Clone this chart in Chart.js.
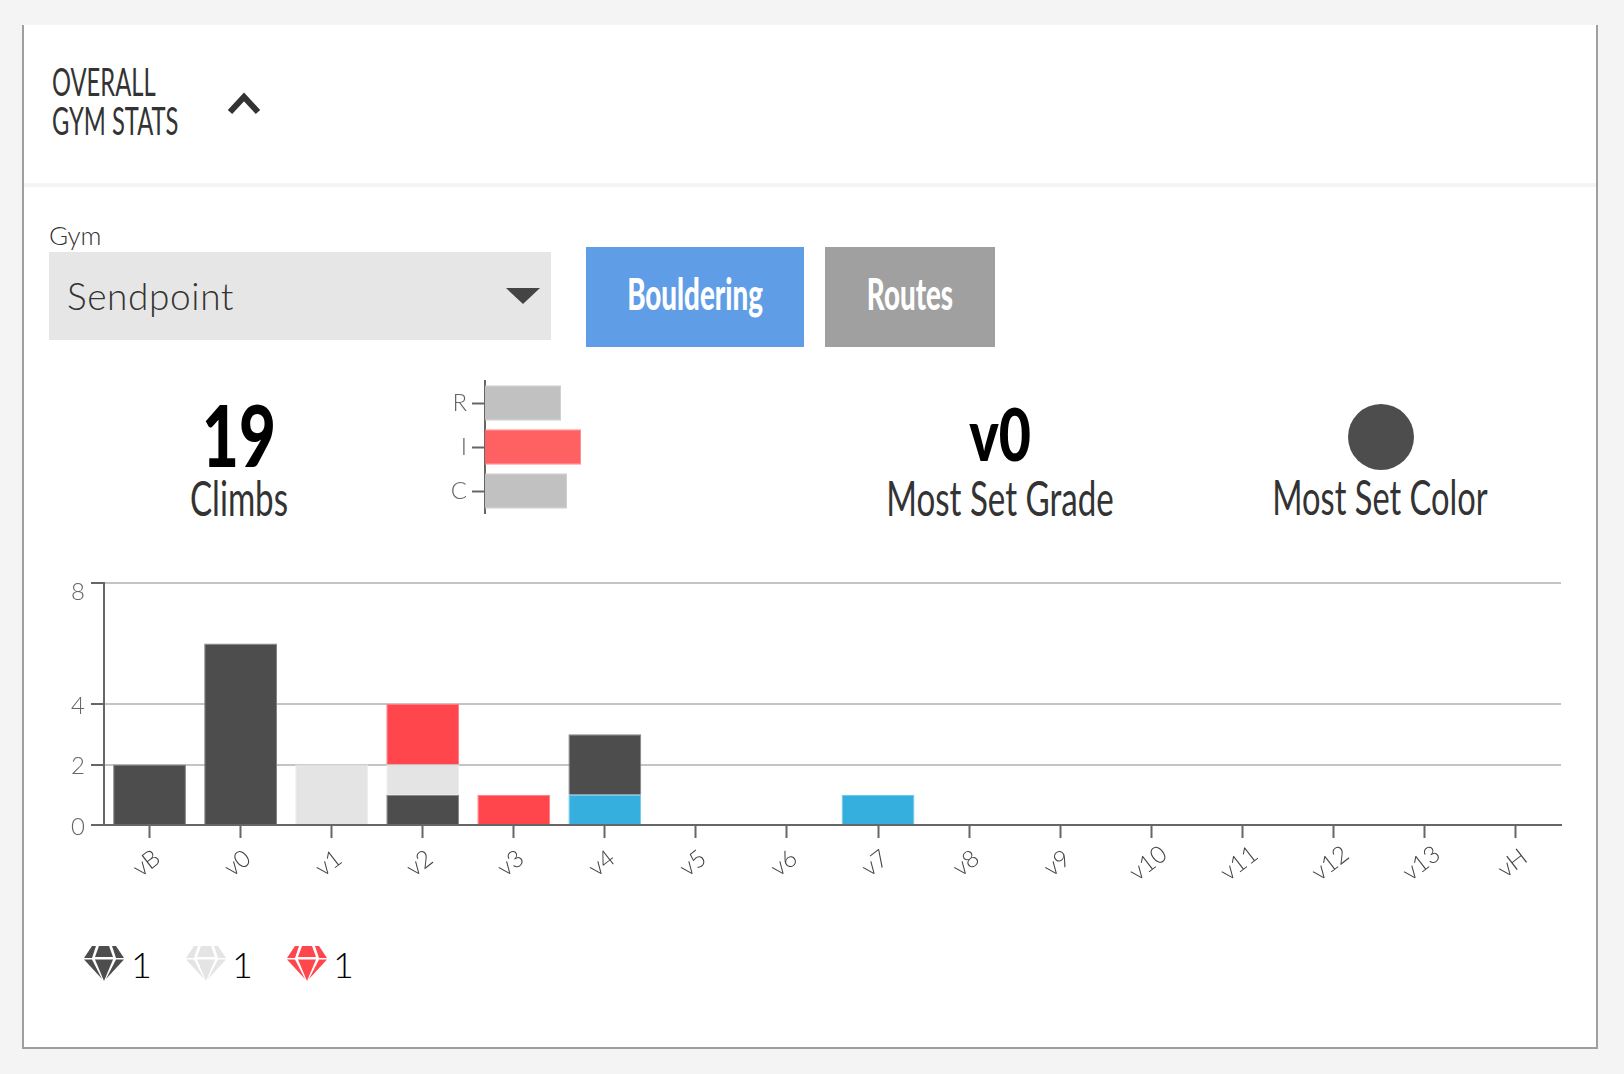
<!DOCTYPE html>
<html>
<head>
<meta charset="utf-8">
<title>Overall Gym Stats</title>
<script src="https://cdn.jsdelivr.net/npm/chart.js@4/dist/chart.umd.js"></script>
<style>
  html, body { margin: 0; padding: 0; width: 1624px; height: 1074px; overflow: hidden; background: #f4f4f4; font-family: Lato, sans-serif; }
  #panel { position: absolute; left: 22px; top: 25px; width: 1572px; height: 1022px; background: #fff; border: 2px solid #9f9f9f; border-top: 0; box-sizing: content-box; }
  .abs { position: absolute; white-space: nowrap; line-height: 1; }
  .narrow { transform-origin: left center; }
  .mid { text-align: center; transform-origin: center center; }
  canvas { position: absolute; }
</style>
</head>
<body>
<div id="panel"></div>

<!-- header -->
<div class="abs narrow" style="left:52px;top:62px;font-size:38px;color:#333;transform:scaleX(.625)">OVERALL</div>
<div class="abs narrow" style="left:52px;top:101px;font-size:38px;color:#333;transform:scaleX(.625)">GYM STATS</div>
<svg class="abs" style="left:224px;top:90px" width="40" height="28"><path d="M6 22 L20 7 L34 22" fill="none" stroke="#333" stroke-width="6"/></svg>
<div class="abs" style="left:24px;top:183px;width:1572px;height:4px;background:#f4f4f4"></div>

<!-- gym select and buttons -->
<div class="abs" style="left:49px;top:222px;font-size:26px;font-weight:300;color:#333">Gym</div>
<div class="abs" style="left:49px;top:252px;width:502px;height:88px;background:#e6e6e6"></div>
<div class="abs" style="left:67px;top:277px;font-size:37px;font-weight:300;letter-spacing:.6px;color:#333">Sendpoint</div>
<svg class="abs" style="left:505px;top:287px" width="36" height="18"><path d="M1 1 H35 L18 17 Z" fill="#444"/></svg>
<div class="abs" style="left:586px;top:247px;width:218px;height:100px;background:#5f9ee6"></div>
<div class="abs mid" style="left:586px;top:271px;width:218px;font-size:44px;font-weight:900;color:#fff;transform:scaleX(.63)">Bouldering</div>
<div class="abs" style="left:825px;top:247px;width:170px;height:100px;background:#a0a0a0"></div>
<div class="abs mid" style="left:825px;top:271px;width:170px;font-size:44px;font-weight:900;color:#fff;transform:scaleX(.63)">Routes</div>

<!-- stats -->
<div class="abs mid" style="left:139px;top:391px;width:200px;font-size:86px;font-weight:900;color:#000;transform:scaleX(.74)">19</div>
<div class="abs mid" style="left:139px;top:474px;width:200px;font-size:48px;color:#333;transform:scaleX(.69)">Climbs</div>
<div class="abs mid" style="left:900px;top:397px;width:200px;font-size:73px;font-weight:900;color:#000;transform:scaleX(.76)">v0</div>
<div class="abs mid" style="left:750px;top:474px;width:500px;font-size:48px;color:#333;transform:scaleX(.69)">Most Set Grade</div>
<div class="abs" style="left:1348px;top:404px;width:66px;height:66px;border-radius:50%;background:#4d4d4d"></div>
<div class="abs mid" style="left:1130px;top:473px;width:500px;font-size:48px;color:#333;transform:scaleX(.68)">Most Set Color</div>

<canvas id="ricChart" width="200" height="200" style="left:420px;top:340px"></canvas>
<canvas id="gradesChart" width="1600" height="350" style="left:0;top:540px"></canvas>

<!-- gem counts -->
<svg width="0" height="0" style="position:absolute">
  <symbol id="gem" viewBox="0 0 40 35">
    <polygon points="0,12 8,0 12,0 8,12"/>
    <polygon points="15,0 25,0 29,11 11,11"/>
    <polygon points="28,0 32,0 40,12 32,12"/>
    <polygon points="0,13.5 8,13.5 18,33"/>
    <polygon points="11,13.5 29,13.5 20,35"/>
    <polygon points="32,13.5 40,13.5 22,33"/>
  </symbol>
</svg>
<svg class="abs" style="left:84px;top:946px;color:#4d4d4d;fill:currentColor" width="40" height="35"><use href="#gem"/></svg>
<div class="abs" style="left:131px;top:946px;font-size:36px;font-weight:300;color:#000">1</div>
<svg class="abs" style="left:186px;top:946px;color:#e4e4e4;fill:currentColor" width="40" height="35"><use href="#gem"/></svg>
<div class="abs" style="left:232px;top:946px;font-size:36px;font-weight:300;color:#000">1</div>
<svg class="abs" style="left:287px;top:946px;color:#ff464d;fill:currentColor" width="40" height="35"><use href="#gem"/></svg>
<div class="abs" style="left:333px;top:946px;font-size:36px;font-weight:300;color:#000">1</div>

<script>
// Grades along the bottom axis
const grades = ['vB', 'v0', 'v1', 'v2', 'v3', 'v4', 'v5', 'v6', 'v7', 'v8', 'v9', 'v10', 'v11', 'v12', 'v13', 'vH'];
const yTicks = [0, 2, 4, 8];

// Climbs per grade, one list per hold colour
const blueClimbs  = [null, null, null, null, null, 1, null, null, 1, null, null, null, null, null, null, null];
const darkClimbs  = [2, 6, null, 1, null, 2, null, null, null, null, null, null, null, null, null, null];
const lightClimbs = [null, null, 2, 1, null, null, null, null, null, null, null, null, null, null, null, null];
const redClimbs   = [null, null, null, 2, 1, null, null, null, null, null, null, null, null, null, null, null];

// R / I / C mini chart
const ricLabels = ['R', 'I', 'C'];
const ricValues = [7.6, 9.6, 8.2];

const AXIS = '#666';
const GRID = '#c4c4c4';
const TICK_FONT = { family: 'Lato', size: 24, weight: '300' };

function bars(values, fill, edge) {
    return { data: values, backgroundColor: fill, borderColor: edge, borderWidth: 1, stack: 'climbs' };
}

// Nudge the labels: top y label sits under its tick, rotated x labels centre on their tick
const labelNudge = {
    id: 'labelNudge',
    afterLayout(chart) {
        const yItems = chart.scales.y.getLabelItems();
        yItems.forEach(item => {
            item.options.translation[1] += item.label === '8' ? 9 : 2;
        });
        chart.scales.x.getLabelItems().forEach(item => {
            item.options.textAlign = 'center';
            item.options.translation[0] -= 3;
        });
    }
};

new Chart(document.getElementById('gradesChart'), {
    type: 'bar',
    plugins: [labelNudge],
    data: {
        labels: grades,
        datasets: [
            bars(blueClimbs, '#35b0de', '#6cc4e6'),
            bars(darkClimbs, '#4d4d4d', '#858585'),
            bars(lightClimbs, '#e4e4e4', '#ececec'),
            bars(redClimbs, '#ff464d', '#ff7a7f')
        ]
    },
    options: {
        responsive: false,
        devicePixelRatio: 1,
        animation: false,
        categoryPercentage: 0.8,
        barPercentage: 1,
        layout: { padding: { top: 43, right: 39 } },
        plugins: { legend: { display: false }, tooltip: { enabled: false } },
        scales: {
            x: {
                stacked: true,
                afterFit: scale => { scale.height = 65; },
                border: { color: AXIS, width: 2 },
                grid: { offset: false, drawOnChartArea: false, tickLength: 13, tickColor: AXIS, tickWidth: 2 },
                ticks: { font: TICK_FONT, color: '#444', minRotation: 38, maxRotation: 38, padding: 14, autoSkip: false }
            },
            y: {
                stacked: true,
                min: 0,
                max: 8,
                afterFit: scale => { scale.width = 104; },
                afterBuildTicks: scale => { scale.ticks = yTicks.map(value => ({ value })); },
                border: { color: AXIS, width: 2 },
                grid: { color: GRID, lineWidth: 2, tickLength: 13, tickColor: AXIS, tickWidth: 2 },
                ticks: { font: TICK_FONT, color: '#666', padding: 6 }
            }
        }
    }
});

new Chart(document.getElementById('ricChart'), {
    type: 'bar',
    data: {
        labels: ricLabels,
        datasets: [{
            data: ricValues,
            backgroundColor: ['#c1c1c1', '#ff6163', '#c1c1c1'],
            borderColor: ['#d0d0d0', '#ff8f90', '#d0d0d0'],
            borderWidth: 1
        }]
    },
    options: {
        indexAxis: 'y',
        responsive: false,
        devicePixelRatio: 1,
        animation: false,
        categoryPercentage: 0.81,
        barPercentage: 1,
        layout: { padding: { top: 41, right: 35, bottom: 27 } },
        plugins: { legend: { display: false }, tooltip: { enabled: false } },
        scales: {
            x: { display: false, min: 0, max: 10 },
            y: {
                afterFit: scale => { scale.width = 65; },
                border: { color: AXIS, width: 2 },
                grid: { offset: false, drawOnChartArea: false, tickLength: 13, tickColor: AXIS, tickWidth: 2 },
                ticks: { font: TICK_FONT, color: '#666', padding: 5 }
            }
        }
    }
});
</script>
</body>
</html>
